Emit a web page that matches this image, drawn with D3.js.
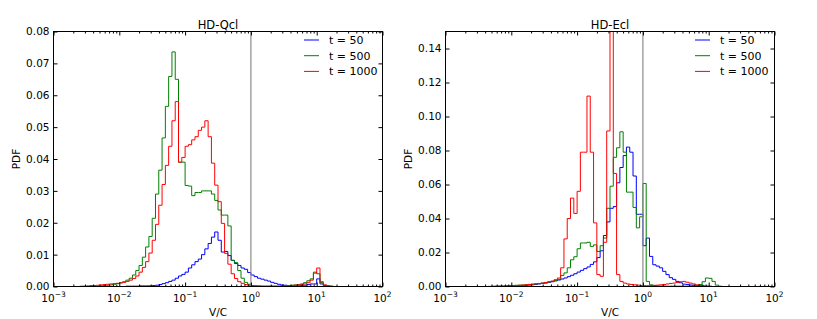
<!DOCTYPE html>
<html>
<head>
<meta charset="utf-8">
<script src="https://cdn.jsdelivr.net/npm/d3@7"></script>
<style>
  body { margin: 0; background: #fff; }
  text { font-family: "DejaVu Sans", sans-serif; fill: #000; }
</style>
</head>
<body>
<svg id="chart" width="817" height="319"></svg>
<script>
// histogram values (PDF per bin), bins are 0.05 decade wide from 1e-3 to 1e2
// each series starts at bin index *Start, bins outside are empty
var qcl50Start = 22;
var qcl50 = [0.0001,0.0001,0.0001,0.0001,0.0002,0.0002,0.0002,0.0002,
  0.0003,0.0004,0.0006,0.0009,0.0012,0.0016,0.002,0.0026,0.0033,0.0038,
  0.0045,0.0058,0.0068,0.0078,0.0086,0.010,0.0118,0.0135,0.0155,0.0171,
  0.0145,0.0108,0.011,0.0097,0.0082,0.0072,0.0066,0.0058,0.0054,0.0044,
  0.0036,0.0031,0.0026,0.0023,0.002,0.0017,0.0013,0.001,0.0007,0.0005,
  0.0004,0.0003,0.0002,0.0002,0.0002,0.0003,0.0004,0.0006,0.0008,0.0008,
  0.0024,0.0008,0.0003,0.0001];

var qcl500Start = 13;
var qcl500 = [0.0001,0.0002,0.0003,0.0004,0.0005,0.0007,0.0009,
  0.0012,0.0015,0.002,0.0026,0.0036,0.005,0.0066,0.0092,0.0124,0.0157,
  0.0214,0.029,0.0365,0.0466,0.0565,0.0659,0.0736,0.065,0.039,0.039,
  0.0317,0.0315,0.0285,0.0295,0.0295,0.030,0.030,0.030,0.029,0.027,
  0.024,0.0224,0.0224,0.019,0.0082,0.0075,0.005,0.0026,0.0013,0.0007,
  0.0003,0.0002,0.0001,0.0001,0.0001,0.0001,0.0001,0.0001,0.0001,0.0002,
  0.0002,0.0003,0.0004,0.0005,0.0006,0.0008,0.0012,0.0018,0.0024,0.0045,
  0.004,0.0012,0.0004,0.0002,0.0001];

var qcl1000Start = 8;
var qcl1000 = [0.0001,0.0001,0.0002,0.0003,0.0003,0.0004,0.0005,0.0006,0.0007,0.0008,0.0009,0.001,
  0.0011,0.0013,0.0016,0.002,0.0025,0.0033,0.0045,0.006,0.0078,0.0105,
  0.0145,0.0195,0.0255,0.032,0.038,0.044,0.052,0.058,0.039,0.0405,
  0.044,0.0445,0.046,0.047,0.049,0.050,0.052,0.047,0.0387,0.0318,
  0.0266,0.0198,0.0104,0.007,0.004,0.0025,0.0015,0.001,0.0006,0.0004,
  0.0003,0.0002,0.0002,0.0001,0.0001,0.0001,0.0001,0.0001,0.0001,0.0002,
  0.0002,0.0002,0.0003,0.0004,0.0005,0.0006,0.0008,0.0012,0.002,0.0042,
  0.0058,0.0015,0.0005,0.0002,0.0001];

var ecl50Start = 20;
var ecl50 = [0.0002,0.0003,0.0004,0.0005,0.0006,0.0008,0.001,0.0012,0.0015,0.0018,
  0.002,0.0024,0.0028,0.0033,0.0038,0.0044,0.005,0.0058,0.0066,0.0075,
  0.0085,0.0095,0.0105,0.0115,0.013,0.0145,0.017,0.021,0.030,0.038,
  0.046,0.047,0.061,0.070,0.077,0.082,0.079,0.065,0.0425,0.0425,
  0.024,0.0285,0.0177,0.0128,0.012,0.011,0.0089,0.007,0.0052,0.0042,
  0.003,0.0022,0.0014,0.0012,0.0009,0.0007,0.0005,0.0004,0.0003,0.0002,
  0.0001];

var ecl500Start = 13;
var ecl500 = [0.0001,0.0002,0.0002,0.0003,0.0003,0.0004,0.0005,
  0.0006,0.0007,0.0008,0.0009,0.001,0.0012,0.0013,0.0015,0.0017,0.002,
  0.0022,0.0026,0.003,0.0035,0.0042,0.0065,0.008,0.011,0.0157,0.0175,
  0.0222,0.0256,0.0256,0.026,0.0236,0.0245,0.0206,0.024,0.0285,0.046,
  0.059,0.076,0.0816,0.091,0.079,0.0555,0.0555,0.0465,0.0345,0.041,
  0.0606,0.003,0.001,0.0006,0.0004,0.0003,0.0003,0.0002,0.0002,0.0002,
  0.0002,0.0002,0.0002,0.0002,0.0003,0.0004,0.0006,0.0012,0.0028,0.005,
  0.0048,0.003,0.0008,0.0002];

var ecl1000Start = 15;
var ecl1000 = [0.0001,0.0002,0.0002,0.0003,0.0004,
  0.0005,0.0006,0.0007,0.0008,0.001,0.0012,0.0014,0.0016,0.0018,0.002,
  0.0024,0.0028,0.0032,0.004,0.005,0.011,0.028,0.040,0.052,0.043,
  0.056,0.079,0.079,0.112,0.079,0.0374,0.007,0.006,0.026,0.0915,
  0.19,0.0665,0.007,0.003,0.002,0.0015,0.0012,0.001,0.0008,0.0006,
  0.0005,0.0005,0.0006,0.0007,0.0008,0.001,0.0012,0.0015,0.0018,0.002,
  0.0024,0.0028,0.003,0.0025,0.002,0.0015,0.001,0.0006,0.0003,0.0002,
  0.0001];

var legendLabels = ["t = 50", "t = 500", "t = 1000"];
var colors = ["#0000ff", "#008000", "#ff0000"];
var xMajor = [1e-3, 1e-2, 1e-1, 1, 10, 100];
var xExp = ["\u22123", "\u22122", "\u22121", "0", "1", "2"];

var svg = d3.select("#chart");

// bin edges for the histograms
var edges = d3.range(101).map(function (i) { return Math.pow(10, -3 + i * 0.05); });

function fullSeries(start, vals) {
    var out = new Array(100).fill(0);
    vals.forEach(function (v, k) { out[start + k] = v; });
    return out;
}

function stepPoints(vals) {
    var pts = [[edges[0], 0]];
    for (var i = 0; i < 100; i++) {
        pts.push([edges[i], vals[i]]);
        pts.push([edges[i + 1], vals[i]]);
    }
    pts.push([edges[100], 0]);
    return pts;
}

function drawPanel(p) {
    var x = d3.scaleLog().domain([1e-3, 1e2]).range([p.x0, p.x1]);
    var y = d3.scaleLinear().domain([0, p.yMax]).range([p.y1, p.y0]);
    var g = svg.append("g");

    svg.append("clipPath").attr("id", "clip-" + p.id)
        .append("rect")
        .attr("x", p.x0).attr("y", p.y0)
        .attr("width", p.x1 - p.x0).attr("height", p.y1 - p.y0);

    var line = d3.line()
        .x(function (d) { return x(d[0]); })
        .y(function (d) { return y(d[1]); });

    p.series.forEach(function (s, i) {
        g.append("path")
            .attr("d", line(stepPoints(fullSeries(s.start, s.values))))
            .attr("fill", "none")
            .attr("stroke", colors[i])
            .attr("stroke-width", 1)
            .attr("clip-path", "url(#clip-" + p.id + ")");
    });

    // V/C = 1 marker
    g.append("line")
        .attr("x1", x(1)).attr("x2", x(1))
        .attr("y1", p.y0).attr("y2", p.y1)
        .attr("stroke", "#8c8c8c").attr("stroke-width", 1.2);

    // ticks, pointing inwards on all four sides
    var minor = x.ticks().filter(function (v) {
        var l = Math.log10(v);
        return Math.abs(l - Math.round(l)) > 1e-6;
    });
    function xAxis(gen, yPos, size, vals) {
        var a = g.append("g").attr("transform", "translate(0," + yPos + ")")
            .call(gen(x).tickValues(vals).tickSize(size).tickFormat(""));
        a.select(".domain").remove();
    }
    xAxis(d3.axisBottom, p.y1, -4, xMajor);
    xAxis(d3.axisBottom, p.y1, -2, minor);
    xAxis(d3.axisTop, p.y0, -4, xMajor);
    xAxis(d3.axisTop, p.y0, -2, minor);

    var yl = g.append("g").attr("transform", "translate(" + p.x0 + ",0)")
        .call(d3.axisLeft(y).tickValues(p.yTicks).tickSize(-4).tickPadding(4)
            .tickFormat(d3.format(".2f")));
    yl.select(".domain").remove();
    yl.attr("font-size", null).attr("font-family", null);
    yl.selectAll("text").style("font-size", "10.5px");

    var yr = g.append("g").attr("transform", "translate(" + p.x1 + ",0)")
        .call(d3.axisRight(y).tickValues(p.yTicks).tickSize(-4).tickFormat(""));
    yr.select(".domain").remove();

    g.selectAll(".tick line").attr("stroke", "#000");

    // frame
    g.append("rect")
        .attr("x", p.x0).attr("y", p.y0)
        .attr("width", p.x1 - p.x0).attr("height", p.y1 - p.y0)
        .attr("fill", "none").attr("stroke", "#000").attr("stroke-width", 1);

    // x tick labels as powers of ten
    xMajor.forEach(function (v, i) {
        var t = g.append("text")
            .attr("x", x(v)).attr("y", 301.5)
            .attr("text-anchor", "middle")
            .style("font-size", "10.5px");
        t.append("tspan").text("10");
        t.append("tspan").attr("dy", -5).style("font-size", "7.5px").text(xExp[i]);
    });

    g.append("text")
        .attr("x", (p.x0 + p.x1) / 2).attr("y", 316)
        .attr("text-anchor", "middle").style("font-size", "10.5px")
        .text("V/C");

    g.append("text")
        .attr("transform", "translate(" + p.yLabelX + "," + ((p.y0 + p.y1) / 2) + ") rotate(-90)")
        .attr("text-anchor", "middle").style("font-size", "10.5px")
        .text("PDF");

    g.append("text")
        .attr("x", (p.x0 + p.x1) / 2).attr("y", 29)
        .attr("text-anchor", "middle").style("font-size", "11.5px")
        .text(p.title);

    // legend without frame
    var leg = g.append("g").attr("transform", "translate(" + p.legX + ",40)");
    legendLabels.forEach(function (lab, i) {
        var row = leg.append("g").attr("transform", "translate(0," + (i * 15.7) + ")");
        row.append("line").attr("x1", 0).attr("x2", 15).attr("y1", 0).attr("y2", 0)
            .attr("stroke", colors[i]).attr("stroke-width", 1);
        row.append("text").attr("x", 25).attr("y", 4)
            .style("font-size", "11px")
            .text(lab);
    });
}

drawPanel({
    id: "qcl", title: "HD-Qcl",
    x0: 53.5, x1: 382.5, y0: 31.5, y1: 286.5,
    yMax: 0.08, yTicks: d3.range(0, 0.0801, 0.01),
    yLabelX: 20, legX: 304,
    series: [
        { start: qcl50Start, values: qcl50 },
        { start: qcl500Start, values: qcl500 },
        { start: qcl1000Start, values: qcl1000 }
    ]
});

drawPanel({
    id: "ecl", title: "HD-Ecl",
    x0: 445.5, x1: 774.5, y0: 31.5, y1: 286.5,
    yMax: 0.15, yTicks: d3.range(0, 0.1401, 0.02),
    yLabelX: 412, legX: 695,
    series: [
        { start: ecl50Start, values: ecl50 },
        { start: ecl500Start, values: ecl500 },
        { start: ecl1000Start, values: ecl1000 }
    ]
});
</script>
</body>
</html>
